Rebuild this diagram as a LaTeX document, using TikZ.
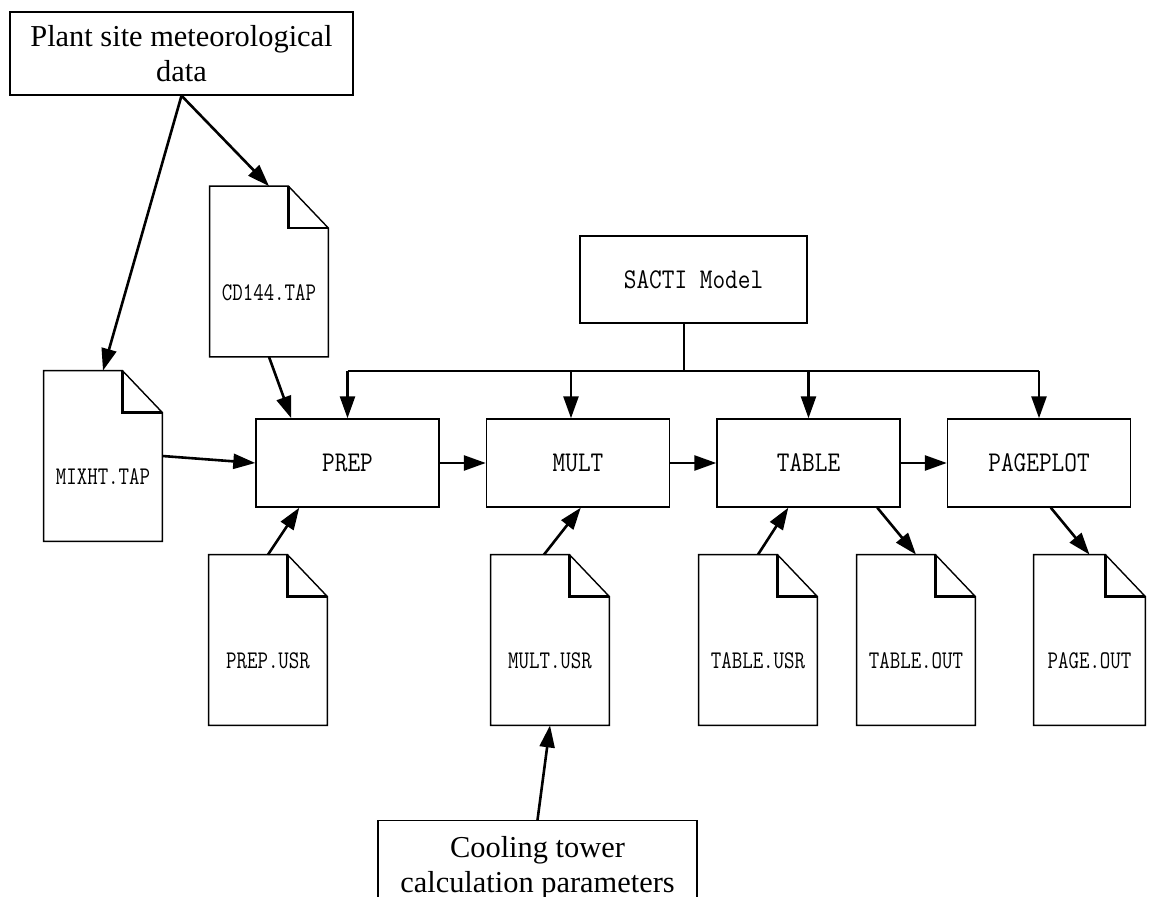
\documentclass[tikz,border=0pt]{standalone}
\usepackage{fontspec}
\setmainfont{Liberation Serif}
\newfontfamily\boxfont[FakeStretch=0.86]{Latin Modern Mono}
\newfontfamily\docfont[FakeStretch=0.8]{Latin Modern Mono}
\usetikzlibrary{arrows.meta}

% document symbol with folded corner: [width]{name}{position}{text}
\newcommand{\docfile}[4][59pt]{%
	\node[docbody, minimum width=#1] (#2) at (#3) {};
	\draw[docline] (#2.north west) -- ([xshift=-20pt]#2.north east) -- ([yshift=-21pt]#2.north east)
		-- (#2.south east) -- (#2.south west) -- cycle;
	\draw[foldline] ([xshift=-20pt]#2.north east) |- ([yshift=-21pt]#2.north east);
	\node[doctext] (#2-txt) at ([yshift=-10.5pt]#2.center) {#4};
}

\begin{document}
\begin{tikzpicture}[x=0.5pt, y=-0.5pt,
	prog/.style={draw, line width=0.7pt, minimum width=91.5pt, minimum height=44pt,
		inner sep=0pt, font=\boxfont\fontsize{14.3pt}{17pt}\selectfont},
	note/.style={draw, line width=0.7pt, align=center, inner sep=0pt,
		font=\fontsize{15.2pt}{17.5pt}\selectfont},
	docbody/.style={minimum height=85pt, inner sep=0pt},
	docline/.style={line width=0.7pt},
	foldline/.style={line width=1.1pt},
	doctext/.style={inner sep=0pt, font=\docfont\fontsize{12.7pt}{15pt}\selectfont},
	flow/.style={line width=1.3pt, -{Triangle[length=11pt, width=7.5pt]}},
	bus/.style={line width=1.3pt}]
\useasboundingbox (0,0) rectangle (1153,897);

% draw input boxes
	\node[note, minimum width=171.5pt, minimum height=41.5pt] (plant) at (181.5,53.5)
		{Plant site meteorological\\data};
	\node[note, anchor=north, minimum width=159.5pt, inner ysep=8pt] (cooling) at (537.5,820)
		{Cooling tower\\calculation parameters};

% draw program boxes
	\node[prog, minimum width=113.5pt, minimum height=43.5pt] (sacti) at (693.5,279.5) {SACTI Model};
	\node[prog] (prep) at (347.5,463) {PREP};
	\node[prog] (mult) at (578,463) {MULT};
	\node[prog] (table) at (808.5,463) {TABLE};
	\node[prog] (pageplot) at (1039,463) {PAGEPLOT};

% draw files
	\docfile{cd144}{269,271.5}{CD144.TAP}
	\docfile{mixht}{103,456}{MIXHT.TAP}
	\docfile{prepusr}{268,640}{PREP.USR}
	\docfile{multusr}{550,640}{MULT.USR}
	\docfile{tableusr}{758,640}{TABLE.USR}
	\docfile{tableout}{916,640}{TABLE.OUT}
	\docfile[55.5pt]{pageout}{1089.5,640}{PAGE.OUT}

% draw SACTI bus
	\coordinate (bus) at (684,371);
	\draw[bus] ([xshift=-4.75pt]sacti.south) -- (bus);
	\draw[bus] (prep.north |- bus) -- (pageplot.north |- bus);
	\draw[flow] (prep.north |- bus) -- (prep.north);
	\draw[flow] ([xshift=-3.5pt]mult.north |- bus) -- ([xshift=-3.5pt]mult.north);
	\draw[flow] (table.north |- bus) -- (table.north);
	\draw[flow] (pageplot.north |- bus) -- (pageplot.north);

% draw data flow
	\draw[flow] (plant.south) -- (mixht.north);
	\draw[flow] (plant.south) -- (cd144.north);
	\draw[flow] (cd144.south) -- ([xshift=18pt]prep.north west);
	\draw[flow] (mixht.east) -- (prep.west);
	\draw[flow] (prepusr.north) -- ([xshift=22pt]prep.south west);
	\draw[flow] ([xshift=-3pt]multusr.north) -- ([xshift=47.5pt]mult.south west);
	\draw[flow] (cooling.north) -- (multusr.south);
	\draw[flow] (tableusr.north) -- ([xshift=36pt]table.south west);
	\draw[flow] ([xshift=80.5pt]table.south west) -- (tableout.north);
	\draw[flow] ([xshift=52pt]pageplot.south west) -- (pageout.north);
	\draw[flow] (prep.east) -- (mult.west);
	\draw[flow] (mult.east) -- (table.west);
	\draw[flow] (table.east) -- (pageplot.west);
\end{tikzpicture}
\end{document}
